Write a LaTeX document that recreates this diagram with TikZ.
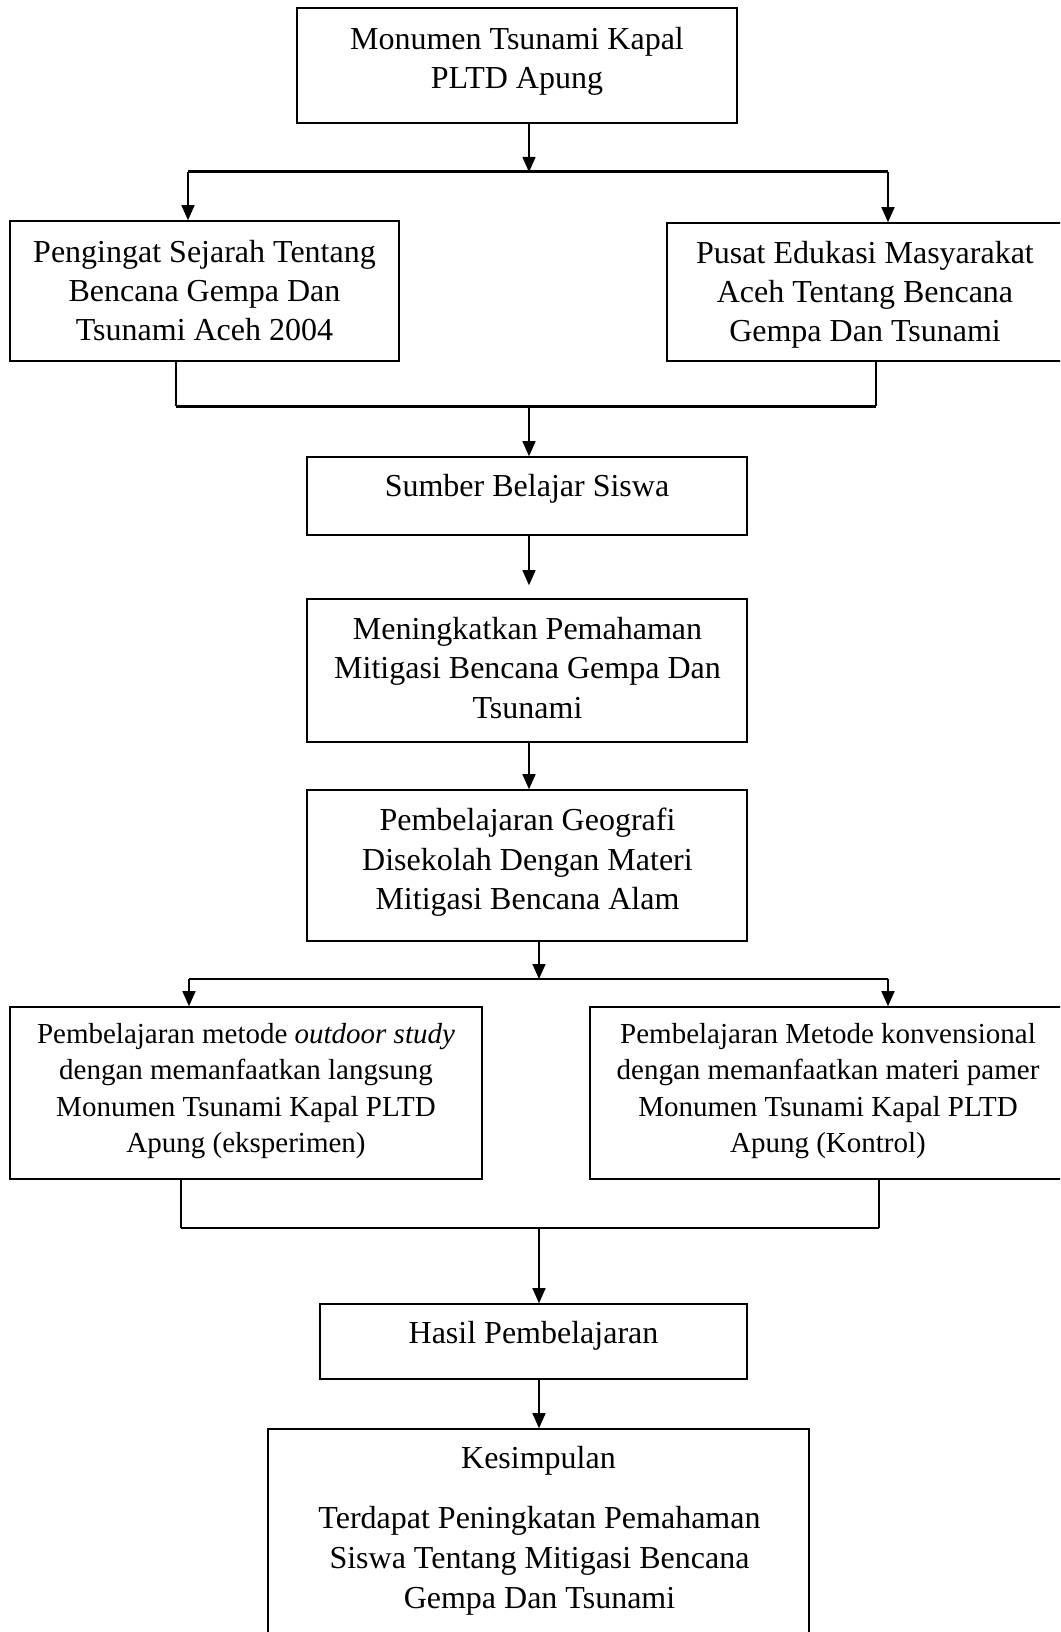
\documentclass[tikz,border=0pt]{standalone}
\usepackage{fontspec}
\setmainfont{Liberation Serif}
\usetikzlibrary{arrows.meta,calc}
\tikzset{
  box/.style={draw, rectangle, line width=1.6pt, inner sep=0pt},
  txt/.style={align=center, inner sep=0pt, anchor=north, font=\fontsize{32}{38.8}\selectfont},
  smalltxt/.style={align=center, inner sep=0pt, anchor=north, font=\fontsize{29}{36.5}\selectfont},
  conn/.style={line width=1.5pt},
  arr/.style={line width=1.5pt, -{Triangle[length=15pt,width=13pt]}},
  bar/.style={line width=3pt},
  thinbar/.style={line width=2.5pt}
}
\begin{document}
\begin{tikzpicture}[x=1pt,y=-1pt]
\useasboundingbox (0,0) rectangle (1060,1632);
\clip (0,0) rectangle (1060,1632);
\fill[white] (0,0) rectangle (1060,1632);

% boxes
\node[box, minimum width=440pt, minimum height=115pt] (top) at (517,65.5) {};
\node[box, minimum width=389pt, minimum height=140pt] (L1) at (204.5,291) {};
\node[box, minimum width=395pt, minimum height=138pt] (R1) at (864.5,292) {};
\node[box, minimum width=440pt, minimum height=78pt] (S) at (527,496) {};
\node[box, minimum width=440pt, minimum height=143pt] (M) at (527,670.5) {};
\node[box, minimum width=440pt, minimum height=151pt] (G) at (527,865.5) {};
\node[box, minimum width=472pt, minimum height=172pt] (L2) at (246,1093) {};
\node[box, minimum width=472pt, minimum height=172pt] (R2) at (826,1093) {};
\node[box, minimum width=427pt, minimum height=75pt] (H) at (533.5,1341.5) {};
\node[box, minimum width=541pt, minimum height=231pt] (K) at (538.5,1544.5) {};

% texts
\node[txt] (ttop) at (517,27) {Monumen Tsunami Kapal\\PLTD Apung};
\node[txt] (tL1) at (204.5,240) {Pengingat Sejarah Tentang\\Bencana Gempa Dan\\Tsunami Aceh 2004};
\node[txt] (tR1) at (865,241) {Pusat Edukasi Masyarakat\\Aceh Tentang Bencana\\Gempa Dan Tsunami};
\node[txt] (tS) at (527,474) {Sumber Belajar Siswa};
\node[txt, font=\fontsize{32}{39.5}\selectfont] (tM) at (527.5,617) {Meningkatkan Pemahaman\\Mitigasi Bencana Gempa Dan\\Tsunami};
\node[txt, font=\fontsize{32}{39.5}\selectfont] (tG) at (527.5,808) {Pembelajaran Geografi\\Disekolah Dengan Materi\\Mitigasi Bencana Alam};
\node[smalltxt] (tL2) at (246,1023) {Pembelajaran metode \textit{outdoor study}\\dengan memanfaatkan langsung\\Monumen Tsunami Kapal PLTD\\Apung (eksperimen)};
\node[smalltxt] (tR2) at (828,1023) {Pembelajaran Metode konvensional\\dengan memanfaatkan materi pamer\\Monumen Tsunami Kapal PLTD\\Apung (Kontrol)};
\node[txt] (tH) at (533.5,1321) {Hasil Pembelajaran};
\node[txt] (tK) at (538.5,1446) {Kesimpulan};
\node[txt, font=\fontsize{32}{40}\selectfont] (tK2) at (539.5,1506) {Terdapat Peningkatan Pemahaman\\Siswa Tentang Mitigasi Bencana\\Gempa Dan Tsunami};

% junction coordinates
\coordinate (j1) at (529,172);
\coordinate (b1l) at (188,172);
\coordinate (b1r) at (888,172);
\coordinate (b2l) at (176,406);
\coordinate (b2r) at (876,406);
\coordinate (j2) at (529,406);
\coordinate (j3) at (539,979);
\coordinate (b3l) at (189,979);
\coordinate (b3r) at (888,979);
\coordinate (b4l) at (181,1228);
\coordinate (b4r) at (879,1228);
\coordinate (j4) at (539,1228);

% connectors: top -> split
\draw[arr] (top.south -| j1) -- (j1);
\draw[bar] (b1l) -- (b1r);
\draw[arr] (b1l) -- (L1.north -| b1l);
\draw[arr] (b1r) -- (R1.north -| b1r);

% merge -> Sumber
\draw[conn] (L1.south -| b2l) -- (b2l);
\draw[conn] (R1.south -| b2r) -- (b2r);
\draw[bar] (b2l) -- (b2r);
\draw[arr] (j2) -- (S.north -| j2);

% chain
\draw[arr] (S.south -| j2) -- ($(M.north -| j2)+(0,-13)$);
\draw[arr] (M.south -| j2) -- (G.north -| j2);

% split 2
\draw[arr] (G.south -| j3) -- (j3);
\draw[thinbar] (b3l) -- (b3r);
\draw[arr] (b3l) -- (L2.north -| b3l);
\draw[arr] (b3r) -- (R2.north -| b3r);

% merge 2
\draw[conn] (L2.south -| b4l) -- (b4l);
\draw[conn] (R2.south -| b4r) -- (b4r);
\draw[thinbar] (b4l) -- (b4r);
\draw[arr] (j4) -- (H.north -| j4);
\draw[arr] (H.south -| j4) -- (K.north -| j4);
\end{tikzpicture}
\end{document}
